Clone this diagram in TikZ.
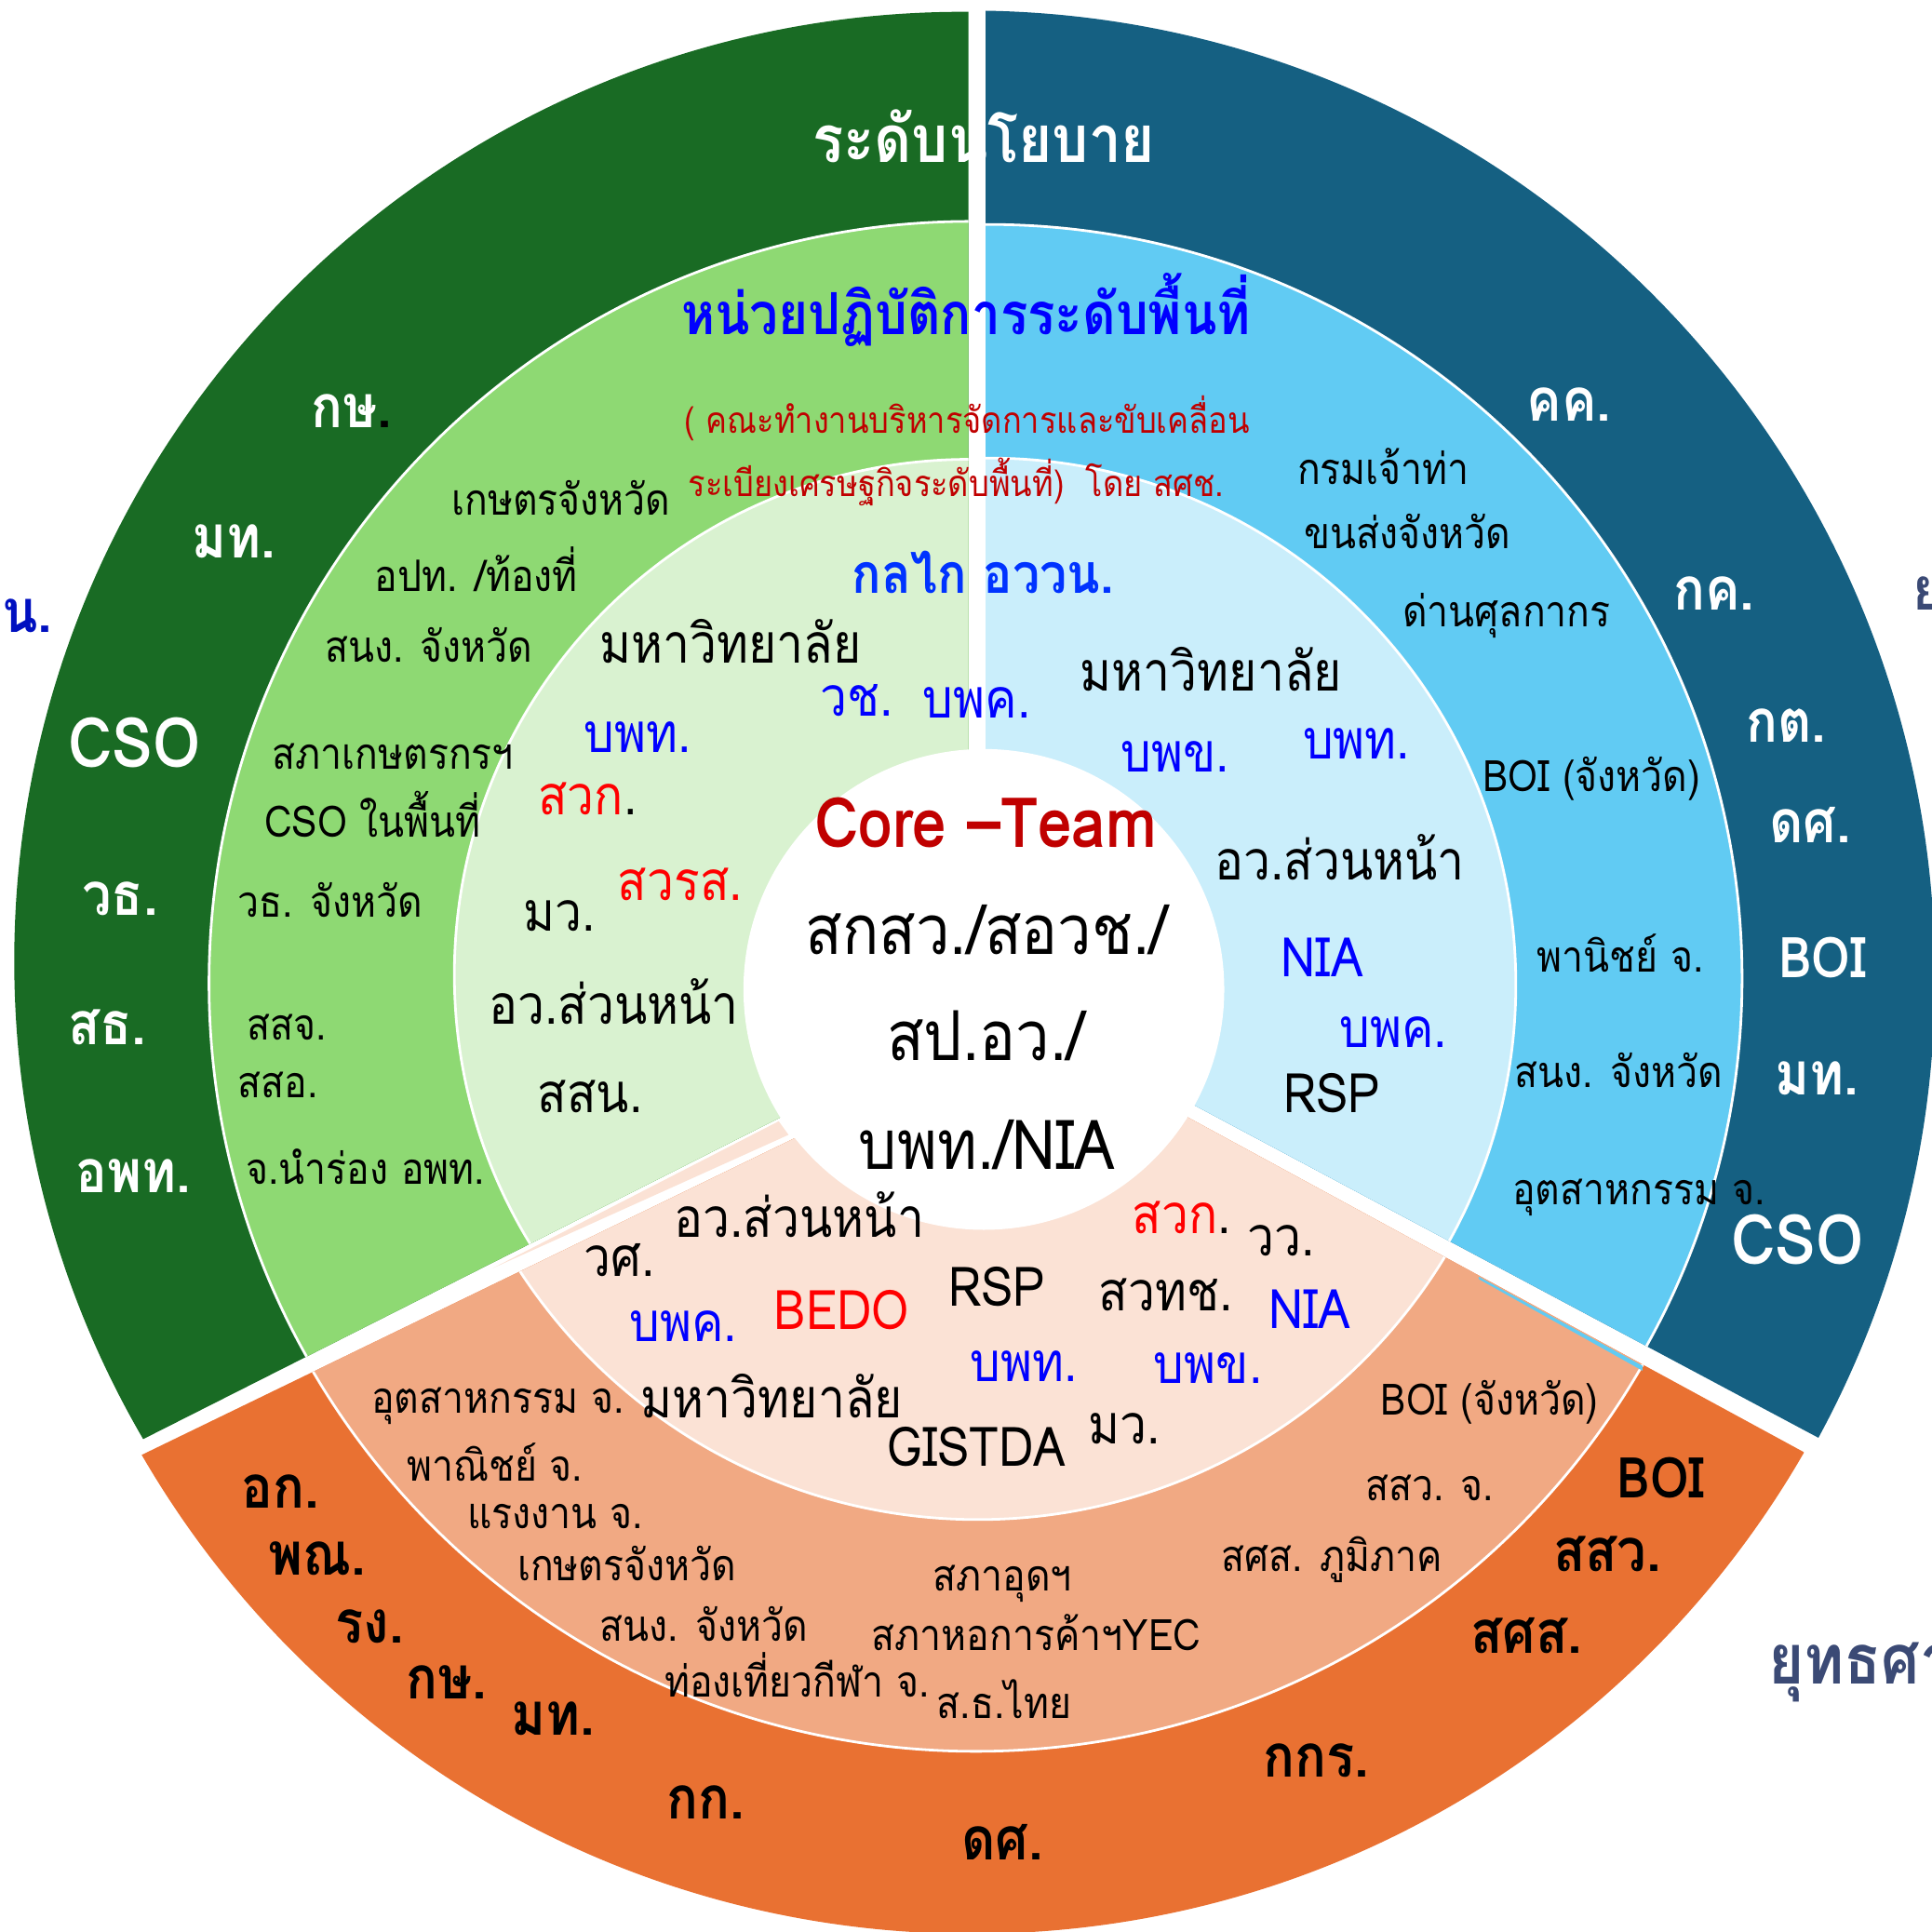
\documentclass[tikz,border=0pt]{standalone}
\usepackage{fontspec}
\setmainfont[Script=Thai, FakeStretch=0.88]{Loma}
\definecolor{polgreen}{HTML}{196B24}
\definecolor{areagreen}{HTML}{8ED973}
\definecolor{coregreen}{HTML}{D9F2D0}
\definecolor{polblue}{HTML}{156082}
\definecolor{areablue}{HTML}{61CBF3}
\definecolor{coreblue}{HTML}{CAEEFB}
\definecolor{polorange}{HTML}{E97132}
\definecolor{areaorange}{HTML}{F1A983}
\definecolor{coreorange}{HTML}{FBE2D5}
\definecolor{titlered}{HTML}{C00000}
\definecolor{unitblue}{HTML}{0000FF}
\definecolor{mechblue}{HTML}{0033FF}
\definecolor{cutblue}{HTML}{0010C0}
\definecolor{slate}{HTML}{3B4A75}
\tikzset{
    pol/.style={font=\bfseries\fontsize{13.7}{14}\selectfont, text=white, anchor=base, inner sep=0pt},
    polbig/.style={pol, font=\bfseries\fontsize{16}{16}\selectfont},
    polboi/.style={pol, font=\bfseries\fontsize{13}{13}\selectfont},
    polo/.style={pol, text=black},
    area/.style={font=\fontsize{10}{10}\selectfont, anchor=base, inner sep=0pt},
    core/.style={font=\fontsize{12.6}{12.6}\selectfont, anchor=base, inner sep=0pt},
    hub/.style={font=\fontsize{15.9}{16}\selectfont, anchor=base, inner sep=0pt},
    ringline/.style={draw=white, line width=0.6pt}
}
\begin{document}
\begin{tikzpicture}[x=0.01cm, y=-0.01cm]
\useasboundingbox (0,0) rectangle (1568,1568);
\clip (0,0) rectangle (1568,1568);

% green part
\begin{scope}
  \clip (-50,-50) -- (786,-50) -- (786,829.7) -- (-50,1251.9) -- cycle;
  \fill [polgreen] (782,780) circle (7.70cm);
  \filldraw [fill=areagreen, ringline] (788,798) circle (6.18cm);
  \filldraw [fill=coregreen, ringline] (787,791) circle (4.18cm);
\end{scope}
% blue part
\begin{scope}
  \clip (800,-50) -- (1650,-50) -- (1650,1259.7) -- (800,806.7) -- cycle;
  \fill [polblue] (786,793) circle (7.84cm);
  \filldraw [fill=areablue, ringline] (802,794) circle (6.115cm);
  \filldraw [fill=coreblue, ringline] (803,799) circle (4.27cm);
\end{scope}
% orange part
\begin{scope}
  \clip (-50,1260.8) -- (830,834) -- (1650,1279.6) -- (1650,1650) -- (-50,1650) -- cycle;
  \fill [polorange] (789,791) circle (7.78cm);
  \filldraw [fill=areaorange, ringline] (792,798) circle (6.23cm);
  \filldraw [fill=coreorange, ringline] (793.6,790) circle (4.43cm);
\end{scope}
\fill [coreorange] (400,1029.2) -- (632,910) -- (640,921) -- cycle;
\fill [areablue] (1200,1036.1) -- (1333,1108.4) -- (1333,1112.4) -- (1200,1038) -- cycle;
%\draw [white, line width=0.6pt] (1200,1039.5) -- (1333,1114);
\fill [white] (798.5,803) circle (1.95cm);

% outer ring
\node [pol, font=\bfseries\fontsize{15.1}{15}\selectfont] (policy) at (798.5,131.7) {ระดับนโยบาย};
\node [pol] (gKs) at (285,347) {กษ{\color{black}.}};
\node [pol] (gMt) at (190,453) {มท.};
\node [polbig] (gCso) at (109,622.7) {CSO};
\node [pol] (gWt) at (97.5,742.7) {วธ.};
\node [pol] (gSt) at (87,847.7) {สธ.};
\node [pol] (gOpt) at (108,967.7) {อพท.};
\node [pol, text=cutblue, anchor=base east] (cutLeft) at (43,513) {น.};
\node [pol, text=slate, anchor=base west] (cutTop) at (1552,495) {ย};
\node [pol, text=slate, anchor=base west, font=\bfseries\fontsize{16}{16}\selectfont] (cutLow) at (1434.6,1367) {ยุทธศา};

\node [pol] (bKk) at (1273.6,341.7) {คค.};
\node [pol] (bKc) at (1391,495) {กค.};
\node [pol] (bKt) at (1449.5,602) {กต.};
\node [pol] (bDs) at (1469,684) {ดศ.};
\node [polboi] (bBoi) at (1479,793.4) {BOI};
\node [pol] (bMt) at (1474.6,888.7) {มท.};
\node [polbig] (bCso) at (1458.7,1026) {CSO};

\node [polo] (oOk) at (227.5,1223.6) {อก.};
\node [polo] (oPn) at (257.5,1278.6) {พณ.};
\node [polo] (oRg) at (300,1333.6) {รง.};
\node [polo] (oKs) at (362.3,1378.6) {กษ.};
\node [polo] (oMt) at (448.7,1408.6) {มท.};
\node [polo] (oKk) at (572.7,1476) {กก.};
\node [polo] (oDs) at (813.7,1509.3) {ดศ.};
\node [polo] (oKkr) at (1068,1442.6) {กกร.};
\node [polo] (oSss) at (1239,1342) {สศส.};
\node [polo] (oSsw) at (1304.6,1275.3) {สสว.};
\node [polboi, text=black] (oBoi) at (1347.8,1215.3) {BOI};

% middle ring
\node [area, font=\bfseries\fontsize{13.4}{13}\selectfont, text=unitblue] (areaTitle) at (784,271.7) {หน่วยปฏิบัติการระดับพื้นที่};
\node [area, font=\fontsize{8.4}{9}\selectfont, text=titlered] (areaSub1) at (785,351.7) {( คณะทำงานบริหารจัดการและขับเคลื่อน};
\node [area, font=\fontsize{8.4}{9}\selectfont, text=titlered] (areaSub2) at (776,403.3) {ระเบียงเศรษฐกิจระดับพื้นที่)\ \ โดย สศช.};

\node [area] (gKaset) at (455.5,418) {เกษตรจังหวัด};
\node [area] (gOpt2) at (386.5,480) {อปท. /ท้องที่};
\node [area] (gSng) at (348,537.7) {สนง. จังหวัด};
\node [area] (gSpk) at (319,624.4) {สภาเกษตรกรฯ};
\node [area] (gCso2) at (302.5,679.4) {CSO ในพื้นที่};
\node [area] (gWt2) at (268,744.4) {วธ. จังหวัด};
\node [area] (gSsj) at (232.5,844.4) {สสจ.};
\node [area] (gSso) at (225.5,891) {สสอ.};
\node [area] (gPilot) at (296.7,961) {จ.นำร่อง อพท.};

\node [area] (bPort) at (1122.8,393.3) {กรมเจ้าท่า};
\node [area] (bTrans) at (1142,445) {ขนส่งจังหวัด};
\node [area] (bCustom) at (1222.8,508.3) {ด่านศุลกากร};
\node [area] (bBoi2) at (1291.7,642) {BOI (จังหวัด)};
\node [area] (bCom) at (1315.3,788.7) {พานิชย์ จ.};
\node [area] (bSng) at (1313.6,882.7) {สนง. จังหวัด};
\node [area] (bInd) at (1330,977.7) {อุตสาหกรรม จ.};

\node [area] (oInd) at (404,1147) {อุตสาหกรรม จ.};
\node [area] (oCom) at (401.7,1202) {พาณิชย์ จ.};
\node [area] (oLab) at (450.8,1240.3) {แรงงาน จ.};
\node [area] (oKaset) at (508.8,1283) {เกษตรจังหวัด};
\node [area] (oSng) at (571,1332) {สนง. จังหวัด};
\node [area] (oTour) at (647,1377) {ท่องเที่ยวกีฬา จ.};
\node [area] (oFti) at (813.5,1291.3) {สภาอุดฯ};
\node [area] (oTcc) at (841,1339.3) {สภาหอการค้าฯYEC};
\node [area] (oBank) at (815,1394.6) {ส.ธ.ไทย};
\node [area] (oNesdc) at (1081,1275.3) {สศส. ภูมิภาค};
\node [area] (oSme) at (1160.3,1218) {สสว. จ.};
\node [area] (oBoi2) at (1209,1148.6) {BOI (จังหวัด)};

% inner ring
\node [core, font=\bfseries\fontsize{12.7}{13}\selectfont, text=mechblue] (mech) at (797.7,481.7) {กลไก อววน.};

\node [core] (gUni) at (593,538) {มหาวิทยาลัย};
\node [core, text=unitblue] (gNrct) at (695.7,581) {วช.};
\node [core, text=unitblue] (gPmuB) at (792.7,582.7) {บพค.};
\node [core, text=unitblue] (gPmuA) at (517.5,611) {บพท.};
\node [core] (gArda) at (477,661) {{\color{red}สวก}.};
\node [core, text=red] (gHsri) at (552,731) {สวรส.};
\node [core] (gMw) at (454,756) {มว.};
\node [core] (gFront) at (498,831) {อว.ส่วนหน้า};
\node [core] (gHii) at (479,902.7) {สสน.};

\node [core] (bUni) at (983,561) {มหาวิทยาลัย};
\node [core, text=unitblue] (bPmuC) at (954,626.7) {บพข.};
\node [core, text=unitblue] (bPmuA) at (1101,616) {บพท.};
\node [core] (bFront) at (1087.4,714.4) {อว.ส่วนหน้า};
\node [core, text=unitblue] (bNia) at (1073,792.7) {NIA};
\node [core, text=unitblue] (bPmuB) at (1131,850) {บพค.};
\node [core] (bRsp) at (1081,902.7) {RSP};

\node [core] (oFront) at (648.6,1004.4) {อว.ส่วนหน้า};
\node [core] (oDss) at (503,1036) {วศ.};
\node [core, text=unitblue] (oPmuB) at (554.7,1088.6) {บพค.};
\node [core, text=red] (oBedo) at (683,1078.6) {BEDO};
\node [core] (oRsp) at (809,1060.3) {RSP};
\node [core] (oArda) at (959,1001) {{\color{red}สวก}.};
\node [core] (oTistr) at (1040,1019.4) {วว.};
\node [core] (oNstda) at (946,1063.6) {สวทช.};
\node [core, text=unitblue] (oNia) at (1063,1078) {NIA};
\node [core, text=unitblue] (oPmuA) at (830.7,1121.3) {บพท.};
\node [core, text=unitblue] (oPmuC) at (980.5,1122.6) {บพข.};
\node [core] (oUni) at (626.5,1150.3) {มหาวิทยาลัย};
\node [core] (oGistda) at (792.7,1190.3) {GISTDA};
\node [core] (oMw) at (912.7,1172) {มว.};

% core team
\node [hub, font=\bfseries\fontsize{16}{16}\selectfont, text=titlered] (team) at (800,687.7) {Core –Team};
\node [hub] (team1) at (800.7,774.4) {สกสว./สอวช./};
\node [hub] (team2) at (800,861) {สป.อว./};
\node [hub] (team3) at (801,948.7) {บพท./NIA};
\end{tikzpicture}
\end{document}
